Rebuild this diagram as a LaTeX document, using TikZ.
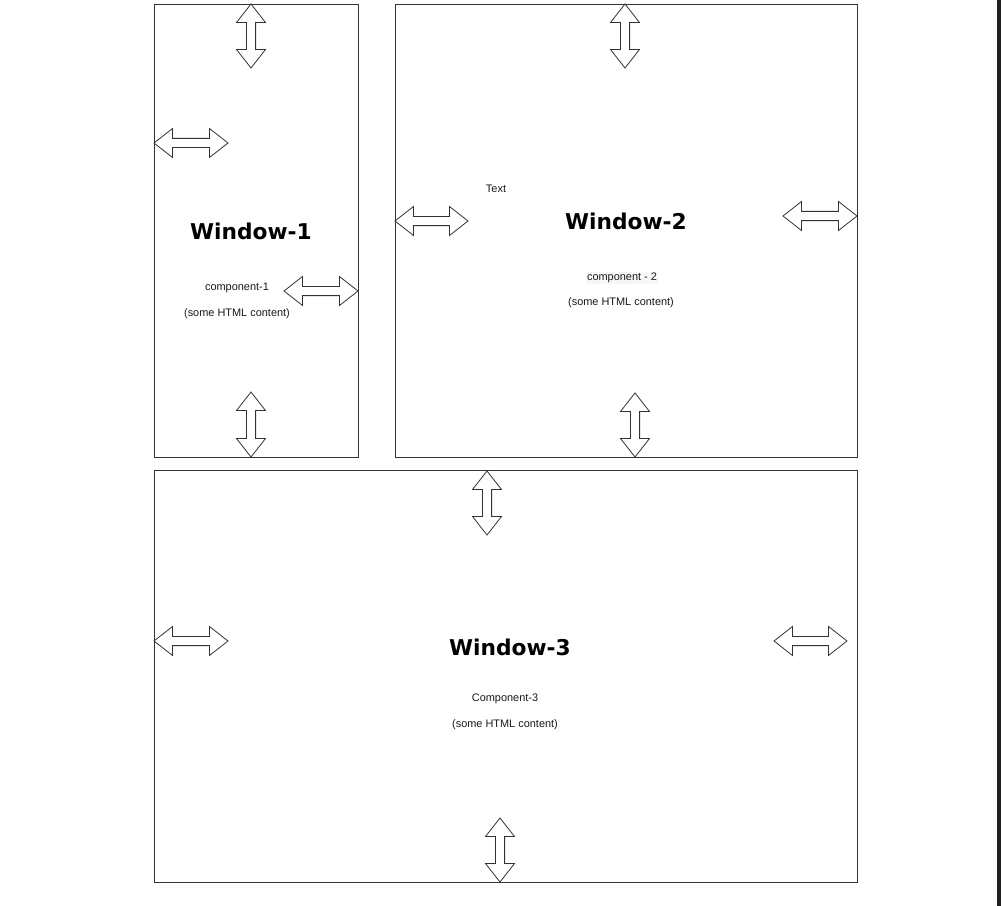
\documentclass[tikz,border=0pt]{standalone}
\usepackage{fontspec}
\setmainfont{Liberation Sans}
\newfontfamily\titlefont{DejaVu Sans}
\tikzset{
  win/.style={draw=black!80, line width=0.65pt},
  darr/.style={draw=black!80, line width=0.6pt, fill=white, line join=miter},
  title/.style={font=\titlefont\bfseries\fontsize{16.3}{18}\selectfont, inner sep=0pt},
  small/.style={font=\fontsize{8.2}{10}\selectfont, inner sep=0pt, text=black!90},
}
% horizontal double arrow: x1, x2, y (px)
\newcommand\hdarr[3]{%
  \draw[darr] (#1,#3) -- ({#1+18.5},{#3-14.5}) -- ({#1+18.5},{#3-4.6}) -- ({#2-18.5},{#3-4.6}) -- ({#2-18.5},{#3-14.5}) -- (#2,#3)
   -- ({#2-18.5},{#3+14.5}) -- ({#2-18.5},{#3+4.6}) -- ({#1+18.5},{#3+4.6}) -- ({#1+18.5},{#3+14.5}) -- cycle;}
% vertical double arrow: x, y1, y2 (px)
\newcommand\vdarr[3]{%
  \draw[darr] (#1,#2) -- ({#1-14.5},{#2+18.5}) -- ({#1-4.6},{#2+18.5}) -- ({#1-4.6},{#3-18.5}) -- ({#1-14.5},{#3-18.5}) -- (#1,#3)
   -- ({#1+14.5},{#3-18.5}) -- ({#1+4.6},{#3-18.5}) -- ({#1+4.6},{#2+18.5}) -- ({#1+14.5},{#2+18.5}) -- cycle;}
\begin{document}
\begin{tikzpicture}[x=0.75pt, y=-0.75pt]
\useasboundingbox (0,0) rectangle (1001,906);
\fill[white] (0,0) rectangle (1001,906);
\fill[black!88] (996.5,0) rectangle (1001,906);

% windows
\draw[win] (154,4) rectangle (358,457);
\draw[win] (395,4) rectangle (857,457);
\draw[win] (154,470) rectangle (857,882);

% window 1
\vdarr{251}{4}{68}
\hdarr{154}{228}{143}
\hdarr{284}{358}{291}
\vdarr{251}{392}{457}
\node[title] (t1) at (251,231) {Window-1};
\node[small] (c1) at (237,288) {component-1};
\node[small] (h1) at (237,314) {(some HTML content)};

% window 2
\vdarr{625}{4}{68}
\hdarr{395}{468}{221}
\hdarr{783}{857}{216}
\vdarr{635}{393}{457}
\node[small] (tx) at (496,189) {Text};
\node[title] (t2) at (626,221) {Window-2};
\node[small, fill=black!3, inner sep=1pt] (c2) at (622,278) {component - 2};
\node[small] (h2) at (621,303) {(some HTML content)};

% window 3
\vdarr{487}{471}{535}
\hdarr{154}{228}{641}
\hdarr{774}{847}{641}
\vdarr{500}{818}{882}
\node[title] (t3) at (510,647) {Window-3};
\node[small] (c3) at (505,699) {Component-3};
\node[small] (h3) at (505,725) {(some HTML content)};
\end{tikzpicture}
\end{document}
